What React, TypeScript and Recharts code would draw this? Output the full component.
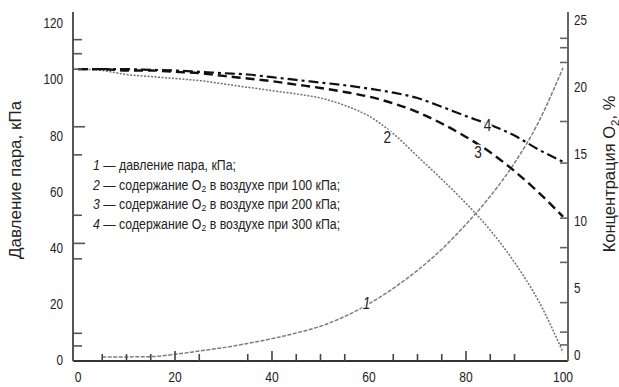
import { LineChart, Line, XAxis, YAxis, Legend } from "recharts";

const FONT = "'Liberation Sans', Arial, Helvetica, sans-serif";

// temperature, °C (x axis)
const temperature = [0, 5, 10, 15, 20, 25, 30, 35, 40, 45, 50, 55, 60, 65, 70, 75, 80, 85, 90, 95, 100];
// curve 1: vapour pressure, kPa (left axis)
const vaporPressure = [null, 1.1, 1.1, 1.2, 2.0, 3.2, 4.4, 5.9, 7.6, 9.6, 12.0, 15.5, 20.0, 25.5, 31.9, 39.4, 48.3, 58.3, 70.1, 84.8, 104.0];
// curves 2-4: O2 content, % (right axis)
const o2At100 = [21.3, 21.2, 20.9, 20.75, 20.6, 20.45, 20.2, 19.95, 19.7, 19.45, 19.15, 18.6, 17.8, 16.5, 14.8, 13.1, 11.3, 9.3, 6.9, 4.0, 0.2];
const o2At200 = [21.3, 21.3, 21.2, 21.2, 21.1, 21.0, 20.8, 20.6, 20.4, 20.15, 19.9, 19.6, 19.25, 18.75, 18.1, 17.25, 16.25, 15.1, 13.7, 12.1, 10.3];
const o2At300 = [21.3, 21.3, 21.3, 21.25, 21.2, 21.1, 21.0, 20.9, 20.7, 20.5, 20.3, 20.1, 19.85, 19.55, 19.15, 18.5, 17.8, 17.15, 16.35, 15.3, 14.4];

const xLabels = [0, 20, 40, 60, 80, 100];
const xMarks = [5, 10, 15, 20, 25, 35, 40, 45, 50, 55, 65, 70, 75, 80, 85, 90];
const leftLabels = [0, 20, 40, 60, 80, 100, 120];
const leftMarks = [5, 9.5, 36, 41.5, 51.5, 73, 83, 103.5, 109, 114];
const leftLongMarks = [41.5, 83];
const rightLabels = [0, 5, 10, 15, 20, 25];
const rightMarks = [0.75, 1.7, 3.9, 6.9, 8.0, 10.2, 14.3, 17.4, 21.8, 22.9, 23.6];

const legendItems = [
  { num: "1", text: "давление пара, кПа;" },
  { num: "2", text: "содержание O", sub: "2", rest: " в воздухе при 100 кПа;" },
  { num: "3", text: "содержание O", sub: "2", rest: " в воздухе при 200 кПа;" },
  { num: "4", text: "содержание O", sub: "2", rest: " в воздухе при 300 кПа;" },
];

const data = temperature.map((t, i) => ({
  t,
  p: vaporPressure[i],
  o100: o2At100[i],
  o200: o2At200[i],
  o300: o2At300[i],
}));

const uniq = (a: number[]) => Array.from(new Set(a)).sort((m, n) => m - n);

// narrow-looking text: Liberation Sans squeezed horizontally
const NText = ({ x, y, size, sx = 1, anchor = "start", rot = 0, italic = false, halo = false, children }: any) => (
  <text
    transform={`translate(${x} ${y}) rotate(${rot}) scale(${sx} 1)`}
    textAnchor={anchor}
    fontFamily={FONT}
    fontSize={size}
    fontStyle={italic ? "italic" : "normal"}
    fill="#222"
    stroke={halo ? "#fff" : "none"}
    strokeWidth={halo ? 3 : 0}
    paintOrder="stroke"
  >
    {children}
  </text>
);

const XTick = (props: any) => {
  const { x, y, payload } = props;
  const v = payload.value;
  return (
    <g>
      {xMarks.includes(v) && (
        <line x1={x} x2={x} y1={y} y2={y - (v % 20 === 0 ? 10 : 7)} stroke="#444" strokeWidth={1.6} />
      )}
      {xLabels.includes(v) && (
        <NText x={x} y={y + 21} size={15.5} sx={0.78} anchor="middle">
          {v}
        </NText>
      )}
    </g>
  );
};

const LeftTick = (props: any) => {
  const { x, y, payload } = props;
  const v = payload.value;
  return (
    <g>
      {leftMarks.includes(v) && (
        <line x1={x} x2={x + (leftLongMarks.includes(v) ? 12 : 9)} y1={y} y2={y} stroke="#555" strokeWidth={1.6} />
      )}
      {leftLabels.includes(v) && (
        <NText x={x - 10} y={y + 5.4} size={15} sx={0.78} anchor="end">
          {v}
        </NText>
      )}
    </g>
  );
};

const RightTick = (props: any) => {
  const { x, y, payload } = props;
  const v = payload.value;
  return (
    <g>
      {rightMarks.includes(v) && <line x1={x} x2={x - 8} y1={y} y2={y} stroke="#666" strokeWidth={1.6} />}
      {rightLabels.includes(v) && (
        <NText x={x + 6} y={y + 5.4} size={15} sx={0.78} anchor="start">
          {v}
        </NText>
      )}
    </g>
  );
};

const curveLabel = (idx: number, txt: string, dx: number, dy: number, italic = false) => (props: any) => {
  if (props.index !== idx) return <g />;
  return (
    <NText x={props.x + dx} y={props.y + dy} size={16} sx={0.85} anchor="middle" italic={italic} halo>
      {txt}
    </NText>
  );
};

const renderLegend = () => (
  <div
    style={{
      fontFamily: FONT,
      fontSize: 14,
      color: "#222",
      lineHeight: "19.5px",
      whiteSpace: "nowrap",
      transform: "scaleX(0.88)",
      transformOrigin: "0 0",
    }}
  >
    {legendItems.map((it) => (
      <div key={it.num}>
        <i>{it.num}</i> — {it.text}
        {it.sub && <span style={{ fontSize: "0.7em", verticalAlign: "-0.25em", lineHeight: 0 }}>{it.sub}</span>}
        {it.rest}
      </div>
    ))}
  </div>
);

export default function App() {
  return (
    <div style={{ position: "absolute", left: 0, top: 0, background: "#fff" }}>
      <LineChart width={619} height={387} data={data} margin={{ top: 12, right: 0, bottom: 0, left: 0 }}>
        <XAxis
          dataKey="t"
          type="number"
          domain={[-1.03, 101.03]}
          allowDataOverflow
          ticks={uniq([...xLabels, ...xMarks])}
          interval={0}
          tickSize={0}
          tickMargin={0}
          tickLine={false}
          tick={<XTick />}
          height={26}
          axisLine={{ stroke: "#333", strokeWidth: 2 }}
        />
        <YAxis
          yAxisId="left"
          type="number"
          domain={[-0.36, 123.84]}
          allowDataOverflow
          ticks={uniq([...leftLabels, ...leftMarks])}
          interval={0}
          tickSize={0}
          tickMargin={0}
          tickLine={false}
          tick={<LeftTick />}
          width={73}
          axisLine={{ stroke: "#555", strokeWidth: 2 }}
          label={{
            content: (p: any) => (
              <NText x={p.viewBox.x + 21} y={180} rot={-90} size={17} anchor="middle">
                Давление пара, кПа
              </NText>
            ),
          }}
        />
        <YAxis
          yAxisId="right"
          orientation="right"
          type="number"
          domain={[-0.45, 25.56]}
          allowDataOverflow
          ticks={uniq([...rightLabels, ...rightMarks])}
          interval={0}
          tickSize={0}
          tickMargin={0}
          tickLine={false}
          tick={<RightTick />}
          width={51}
          axisLine={{ stroke: "#666", strokeWidth: 2 }}
          label={{
            content: (p: any) => (
              <NText x={p.viewBox.x + 47} y={174} rot={-90} size={16.5} anchor="middle">
                Концентрация O
                <tspan fontSize={11.5} dy={3.5}>
                  2
                </tspan>
                <tspan dy={-3.5}>, %</tspan>
              </NText>
            ),
          }}
        />
        <Legend
          content={renderLegend}
          layout="vertical"
          align="center"
          verticalAlign="middle"
          wrapperStyle={{ left: 93, top: 156, width: "auto" }}
        />
        <Line
          yAxisId="left"
          dataKey="p"
          name="1"
          type="monotone"
          stroke="#7d7d7d"
          strokeWidth={1.5}
          strokeDasharray="4 1.5"
          dot={false}
          isAnimationActive={false}
          label={curveLabel(12, "1", -2.5, 5.5, true)}
        />
        <Line
          yAxisId="right"
          dataKey="o100"
          name="2"
          type="monotone"
          stroke="#707070"
          strokeWidth={1.5}
          strokeDasharray="2 1.5"
          dot={false}
          isAnimationActive={false}
          label={curveLabel(13, "2", -6, 9.5)}
        />
        <Line
          yAxisId="right"
          dataKey="o200"
          name="3"
          type="monotone"
          stroke="#111"
          strokeWidth={2.4}
          strokeDasharray="9 5"
          dot={false}
          isAnimationActive={false}
          label={curveLabel(16, "3", 12, 21)}
        />
        <Line
          yAxisId="right"
          dataKey="o300"
          name="4"
          type="monotone"
          stroke="#111"
          strokeWidth={2.2}
          strokeDasharray="10 4 3 4"
          dot={false}
          isAnimationActive={false}
          label={curveLabel(16, "4", 21.5, 15)}
        />
      </LineChart>
    </div>
  );
}
